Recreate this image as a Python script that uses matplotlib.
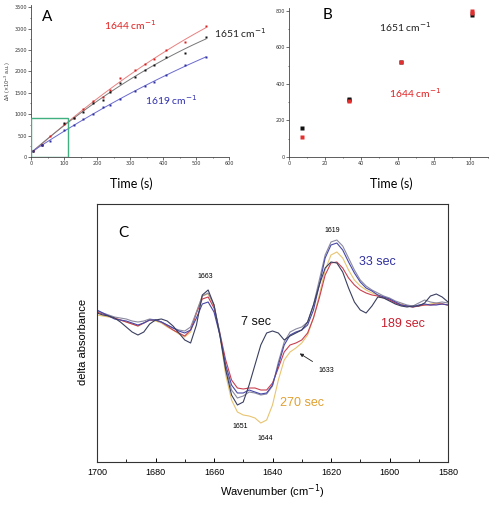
import numpy as np
import matplotlib
matplotlib.use("Agg")
import matplotlib.pyplot as plt
from matplotlib.ticker import MultipleLocator

# ---------------- Panel A data ----------------
t_red = [7, 33, 58, 101, 130, 157, 189, 218, 240, 270, 316, 345, 374, 410, 466, 530]
a_1644 = [130, 290, 490, 770, 900, 1110, 1305, 1400, 1570, 1840, 2030, 2165, 2285, 2500, 2680, 3050]
t_blk = [7, 33, 101, 130, 157, 189, 218, 240, 270, 316, 345, 374, 410, 466, 530]
a_1651 = [150, 290, 790, 900, 1050, 1260, 1340, 1520, 1720, 1880, 2030, 2140, 2330, 2430, 2810]
t_blu = [7, 33, 58, 101, 130, 157, 189, 218, 240, 270, 316, 345, 374, 410, 466, 530]
a_1619 = [150, 270, 380, 620, 740, 880, 1000, 1160, 1220, 1360, 1550, 1650, 1750, 1920, 2140, 2330]

# ---------------- Panel B data ----------------
tb_1651 = [7, 33, 33, 62, 101]
b_1651 = [160, 320, 310, 520, 775]
tb_1644 = [7, 33, 62, 101, 101]
b_1644 = [110, 305, 520, 800, 790]

# ---------------- Panel C data (arbitrary units) ----------------
wn = list(range(1700, 1578, -2))
y_7 = [313, 315, 316, 318, 322, 327, 332, 335, 332, 324, 320, 319, 321, 326, 333, 340, 343, 325, 295, 290,
       305, 335, 370, 395, 405, 402, 385, 365, 345, 333, 331, 333, 340, 336, 333, 330, 322, 305, 285, 268,
       262, 263, 272, 288, 302, 310, 313, 306, 297, 298, 301, 304, 306, 307, 306, 306, 303, 296, 294, 297, 302]
y_33 = [310, 313, 316, 319, 320, 321, 323, 325, 323, 320, 320, 322, 325, 328, 331, 333, 330, 318, 304, 302,
        312, 335, 365, 385, 393, 393, 390, 392, 394, 393, 385, 365, 345, 335, 332, 330, 325, 310, 285, 258,
        245, 243, 250, 262, 273, 282, 288, 291, 295, 297, 299, 302, 305, 306, 307, 305, 304, 305, 305, 304, 305]
y_189 = [312, 314, 316, 318, 320, 322, 324, 326, 323, 320, 320, 322, 326, 330, 333, 336, 330, 313, 299, 297,
         308, 333, 360, 380, 388, 389, 388, 388, 390, 390, 383, 368, 352, 345, 343, 340, 333, 318, 298, 275,
         263, 262, 268, 278, 285, 290, 293, 295, 296, 298, 300, 303, 305, 306, 307, 306, 305, 305, 304, 304, 305]
y_270 = [315, 316, 317, 318, 320, 322, 324, 326, 323, 320, 321, 323, 327, 330, 334, 337, 332, 312, 296, 294,
         305, 335, 375, 400, 412, 415, 416, 418, 423, 420, 405, 380, 360, 352, 348, 343, 335, 318, 295, 270,
         255, 252, 258, 270, 280, 286, 290, 293, 295, 297, 299, 302, 304, 306, 307, 306, 305, 304, 303, 304, 305]
y_101 = [311, 313, 315, 317, 318, 319, 321, 322, 321, 319, 320, 322, 325, 328, 330, 331, 327, 312, 296, 293,
         305, 333, 368, 390, 398, 396, 392, 393, 395, 394, 386, 362, 342, 332, 329, 327, 322, 305, 280, 255,
         242, 240, 246, 258, 270, 280, 286, 290, 293, 296, 298, 301, 303, 305, 306, 303, 300, 302, 303, 302, 303]

fig = plt.figure(figsize=(4.97, 5.14), dpi=100)
W, H = 497.0, 514.0

def frac(l, t, r, b):
    return [l / W, 1 - b / H, (r - l) / W, (b - t) / H]

calib = ['Lato', 'DejaVu Sans']
arial = ['Liberation Sans', 'DejaVu Sans']

# ---------------- Panel A ----------------
axA = fig.add_axes(frac(31, 5, 229, 157))
for tx, ay, mc, lc in [(t_red, a_1644, '#d42020', '#e88080'),
                       (t_blk, a_1651, '#111111', '#777777'),
                       (t_blu, a_1619, '#3030a0', '#6a6ad0')]:
    c = np.polyfit(tx, ay, 2)
    xx = np.linspace(min(tx), max(tx), 100)
    axA.plot(xx, np.polyval(c, xx), color=lc, lw=0.7, zorder=2)
    axA.plot(tx, ay, 's', ms=2, color=mc, mec='none', zorder=3)
axA.add_patch(plt.Rectangle((0, 0), 113, 900, fill=False, ec='#40b080', lw=1.0, zorder=4))
axA.set_xlim(0, 600)
axA.set_ylim(0, 3550)
axA.xaxis.set_major_locator(MultipleLocator(100))
axA.yaxis.set_major_locator(MultipleLocator(500))
axA.xaxis.set_minor_locator(MultipleLocator(50))
axA.yaxis.set_minor_locator(MultipleLocator(250))
axA.tick_params(labelsize=3.5, length=2, width=0.5, pad=1, colors='#333333')
axA.tick_params(which='minor', length=1, width=0.4)
for s in ['top', 'right']:
    axA.spines[s].set_visible(False)
for s in ['left', 'bottom']:
    axA.spines[s].set_linewidth(0.6)
    axA.spines[s].set_color('#444444')
axA.set_ylabel('ΔA (×10$^{-3}$ a.u.)', fontsize=3.5, labelpad=1, color='#333333')
fig.text(131 / W, 1 - 184 / H, 'Time (s)', family=calib, fontsize=9, ha='center', va='center')
fig.text(47 / W, 1 - 17 / H, 'A', family=calib, fontsize=11, ha='center', va='center')
fig.text(130 / W, 1 - 25 / H, '1644 cm$^{-1}$', family=calib, fontsize=7.5, color='#e02020', ha='center', va='center')
fig.text(240 / W, 1 - 33 / H, '1651 cm$^{-1}$', family=calib, fontsize=7.5, color='#222222', ha='center', va='center')
fig.text(171 / W, 1 - 100 / H, '1619 cm$^{-1}$', family=calib, fontsize=7.5, color='#3030b0', ha='center', va='center')

# ---------------- Panel B ----------------
axB = fig.add_axes(frac(289, 8, 488, 157))
axB.plot(tb_1651, b_1651, 's', ms=2.6, color='#111111', mec='none', zorder=3)
axB.plot(tb_1644, b_1644, 's', ms=2.6, color='#e03030', mec='none', zorder=3)
axB.set_xlim(0, 110)
axB.set_ylim(0, 816)
axB.xaxis.set_major_locator(MultipleLocator(20))
axB.xaxis.set_minor_locator(MultipleLocator(10))
axB.yaxis.set_major_locator(MultipleLocator(200))
axB.yaxis.set_minor_locator(MultipleLocator(100))
axB.tick_params(labelsize=3.5, length=2, width=0.5, pad=1, colors='#333333')
axB.tick_params(which='minor', length=1, width=0.4)
for s in ['top', 'right']:
    axB.spines[s].set_visible(False)
for s in ['left', 'bottom']:
    axB.spines[s].set_linewidth(0.6)
    axB.spines[s].set_color('#444444')
fig.text(391 / W, 1 - 184 / H, 'Time (s)', family=calib, fontsize=9, ha='center', va='center')
fig.text(327 / W, 1 - 15 / H, 'B', family=calib, fontsize=11, ha='center', va='center')
fig.text(405 / W, 1 - 27 / H, '1651 cm$^{-1}$', family=calib, fontsize=7.5, color='#222222', ha='center', va='center')
fig.text(415 / W, 1 - 93 / H, '1644 cm$^{-1}$', family=calib, fontsize=7.5, color='#e02020', ha='center', va='center')

# ---------------- Panel C ----------------
axC = fig.add_axes(frac(97, 204, 448, 462))
specs = [(y_270, '#e8c470', 0.8), (y_189, '#c84050', 0.8), (y_101, '#8a8aa0', 0.8),
         (y_33, '#4848a8', 0.8), (y_7, '#3a3f60', 0.8)]
for yy, col, lw in specs:
    axC.plot(wn, yy, color=col, lw=lw)
axC.set_xlim(1700, 1580)
axC.set_ylim(462, 204)
axC.xaxis.set_major_locator(MultipleLocator(20))
axC.xaxis.set_minor_locator(MultipleLocator(10))
axC.set_yticks([])
axC.tick_params(axis='x', direction='in', length=3, width=0.7, labelsize=6.5, pad=4)
axC.tick_params(axis='x', which='minor', direction='in', length=2, width=0.6)
for lab in axC.get_xticklabels():
    lab.set_family(arial)
for s in axC.spines.values():
    s.set_linewidth(0.8)
    s.set_color('#333333')
axC.set_xlabel('Wavenumber (cm$^{-1}$)', family=arial, fontsize=8, labelpad=4)
fig.text(83 / W, 1 - 342 / H, 'delta absorbance', family=arial, fontsize=8, rotation=90, ha='center', va='center')
axC.text(1691, 233, 'C', family=calib, fontsize=11, ha='center', va='center')
axC.text(1619.5, 231, '1619', family=arial, fontsize=5, ha='center', va='center')
axC.text(1663, 277, '1663', family=arial, fontsize=5, ha='center', va='center')
axC.text(1651, 427, '1651', family=arial, fontsize=5, ha='center', va='center')
axC.text(1642.5, 439, '1644', family=arial, fontsize=5, ha='center', va='center')
axC.text(1621.5, 371, '1633', family=arial, fontsize=5, ha='center', va='center')
axC.text(1645.5, 322, '7 sec', family=arial, fontsize=9, ha='center', va='center', color='#111111')
axC.text(1604, 262, '33 sec', family=arial, fontsize=9, ha='center', va='center', color='#3030a0')
axC.text(1595.5, 324, '189 sec', family=arial, fontsize=9, ha='center', va='center', color='#c82030')
axC.text(1630, 403, '270 sec', family=arial, fontsize=9, ha='center', va='center', color='#e0a030')
axC.annotate('', xy=(1631.5, 352), xytext=(1625.5, 363),
             arrowprops=dict(arrowstyle='-|>', color='#222222', lw=0.6, mutation_scale=5))

fig.savefig('out.png', dpi=100)
